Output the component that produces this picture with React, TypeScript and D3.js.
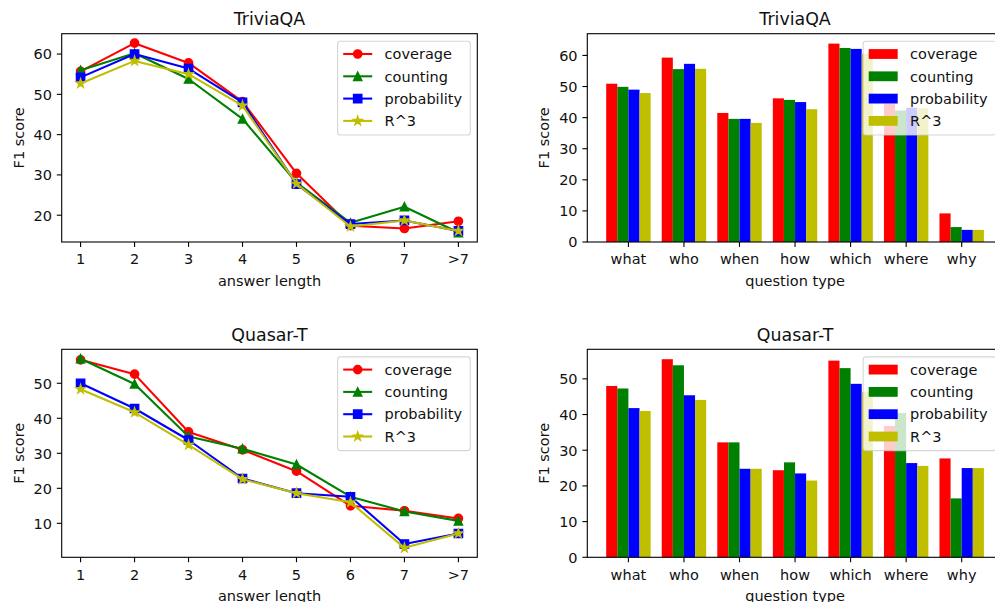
import React from "react";
import * as d3 from "d3";

const answerLengths = ["1", "2", "3", "4", "5", "6", "7", ">7"];
const questionTypes = ["what", "who", "when", "how", "which", "where", "why"];
const methods = ["coverage", "counting", "probability", "R^3"];
const colors = ["#ff0000", "#008000", "#0000ff", "#bfbf00"];
const markers = ["circle", "triangle", "square", "star"];

// TriviaQA by answer length
const triviaLenCoverage = [55.7, 62.7, 57.8, 48.2, 30.4, 17.4, 16.7, 18.5];
const triviaLenCounting = [56.0, 60.2, 53.8, 43.9, 28.1, 18.1, 22.1, 15.7];
const triviaLenProbability = [54.2, 60.0, 56.4, 48.0, 27.7, 17.8, 18.7, 16.1];
const triviaLenR3 = [52.7, 58.3, 55.0, 47.2, 27.8, 17.2, 18.7, 16.1];

// Quasar-T by answer length
const quasarLenCoverage = [56.7, 52.6, 36.1, 31.0, 24.9, 15.0, 13.6, 11.4];
const quasarLenCounting = [57.0, 49.8, 34.8, 31.3, 26.8, 17.6, 13.4, 10.7];
const quasarLenProbability = [50.0, 42.8, 33.8, 22.8, 18.6, 17.6, 4.1, 7.1];
const quasarLenR3 = [48.3, 41.7, 32.4, 22.6, 18.6, 16.0, 3.0, 7.1];

// TriviaQA by question type
const triviaQCoverage = [50.9, 59.3, 41.5, 46.2, 63.8, 44.5, 9.2];
const triviaQCounting = [49.9, 55.6, 39.6, 45.7, 62.4, 42.3, 4.8];
const triviaQProbability = [49.0, 57.3, 39.6, 45.0, 62.1, 43.2, 3.9];
const triviaQR3 = [47.9, 55.7, 38.3, 42.7, 60.5, 43.0, 3.9];

// Quasar-T by question type
const quasarQCoverage = [48.0, 55.5, 32.2, 24.4, 55.1, 36.8, 27.7];
const quasarQCounting = [47.3, 53.8, 32.2, 26.6, 53.0, 40.4, 16.5];
const quasarQProbability = [41.8, 45.4, 24.8, 23.5, 48.6, 26.4, 25.0];
const quasarQR3 = [41.0, 44.1, 24.8, 21.5, 46.4, 25.6, 25.0];

const triviaLenTicks = [20, 30, 40, 50, 60];
const quasarLenTicks = [10, 20, 30, 40, 50];
const triviaQTicks = [0, 10, 20, 30, 40, 50, 60];
const quasarQTicks = [0, 10, 20, 30, 40, 50];

const FONT = "DejaVu Sans, sans-serif";
const FS = 14.5;
const TITLE_FS = 17.4;
const TXT = "#111";

function markerPath(kind: string, r: number): string {
  if (kind === "circle") {
    return `M${-r},0A${r},${r} 0 1,0 ${r},0A${r},${r} 0 1,0 ${-r},0Z`;
  }
  if (kind === "triangle") {
    return `M0,${-r}L${-r},${r}L${r},${r}Z`;
  }
  if (kind === "square") {
    return `M${-r},${-r}H${r}V${r}H${-r}Z`;
  }
  const pts: string[] = [];
  const inner = r * 0.381966;
  for (let i = 0; i < 10; i++) {
    const rad = i % 2 === 0 ? r : inner;
    const a = (i * Math.PI) / 5 - Math.PI / 2;
    pts.push(`${(rad * Math.cos(a)).toFixed(2)},${(rad * Math.sin(a)).toFixed(2)}`);
  }
  return "M" + pts.join("L") + "Z";
}

type Box = { left: number; right: number; top: number; bottom: number };

function Frame({ box, title, xlabel, yTicks, y, ylabelX }: any) {
  const cy = (box.top + box.bottom) / 2;
  const cx = (box.left + box.right) / 2;
  return (
    <g fill={TXT}>
      <text x={cx} y={box.top - 8.3} fontSize={TITLE_FS} textAnchor="middle" fontFamily={FONT}>
        {title}
      </text>
      {yTicks.map((t: number) => (
        <g key={t}>
          <line x1={box.left - 4.9} x2={box.left} y1={y(t)} y2={y(t)} stroke="#000" strokeWidth={1.1} />
          <text x={box.left - 9.7} y={y(t) + 5.3} fontSize={FS} textAnchor="end" fontFamily={FONT}>
            {t}
          </text>
        </g>
      ))}
      <text
        transform={`translate(${ylabelX},${cy}) rotate(-90)`}
        fontSize={FS}
        textAnchor="middle"
        fontFamily={FONT}
      >
        F1 score
      </text>
      <text x={cx} y={box.bottom + 44} fontSize={FS} textAnchor="middle" fontFamily={FONT}>
        {xlabel}
      </text>
    </g>
  );
}

function Spines({ box }: { box: Box }) {
  return (
    <rect
      x={box.left}
      y={box.top}
      width={box.right - box.left}
      height={box.bottom - box.top}
      fill="none"
      stroke="#000"
      strokeWidth={1.1}
    />
  );
}

function Legend({ box, kind }: { box: Box; kind: "line" | "bar" }) {
  const lw = 132.7;
  const lh = 93.7;
  const lx = box.right - 7 - lw;
  const ly = box.top + 7.6;
  return (
    <g>
      <rect
        x={lx}
        y={ly}
        width={lw}
        height={lh}
        rx={2.8}
        fill="#fff"
        fillOpacity={0.8}
        stroke="#cccccc"
        strokeOpacity={0.8}
        strokeWidth={1.1}
      />
      {methods.map((m, i) => {
        const ry = ly + 12.7 + i * 22.3;
        const hx = lx + 5.6;
        return (
          <g key={m}>
            {kind === "line" ? (
              <g>
                <line x1={hx} x2={hx + 29} y1={ry} y2={ry} stroke={colors[i]} strokeWidth={2.08} />
                <path
                  d={markerPath(markers[i], markers[i] === "star" ? 4.6 : 4.15)}
                  transform={`translate(${hx + 14.5},${ry})`}
                  fill={colors[i]}
                  stroke={colors[i]}
                  strokeWidth={1.39}
                />
              </g>
            ) : (
              <rect x={hx} y={ry - 4.9} width={29} height={9.8} fill={colors[i]} />
            )}
            <text x={lx + 47} y={ry + 5.2} fontSize={FS} fontFamily={FONT} fill={TXT}>
              {m}
            </text>
          </g>
        );
      })}
    </g>
  );
}

function LinePanel({ box, title, series, yTicks }: any) {
  const all = series.flat();
  const mn = d3.min(all) as number;
  const mx = d3.max(all) as number;
  const pad = (mx - mn) * 0.05;
  const n = answerLengths.length;
  const x = d3.scaleLinear().domain([-0.35, n - 1 + 0.35]).range([box.left, box.right]);
  const y = d3.scaleLinear().domain([mn - pad, mx + pad]).range([box.bottom, box.top]);
  const line = d3
    .line<number>()
    .x((_, i) => x(i))
    .y((d) => y(d));
  return (
    <g>
      <Frame box={box} title={title} xlabel="answer length" yTicks={yTicks} y={y} ylabelX={24} />
      {answerLengths.map((l, i) => (
        <g key={l}>
          <line x1={x(i)} x2={x(i)} y1={box.bottom} y2={box.bottom + 4.9} stroke="#000" strokeWidth={1.1} />
          <text x={x(i)} y={box.bottom + 22.3} fontSize={FS} textAnchor="middle" fontFamily={FONT} fill={TXT}>
            {l}
          </text>
        </g>
      ))}
      {series.map((s: number[], k: number) => (
        <g key={k}>
          <path d={line(s) as string} fill="none" stroke={colors[k]} strokeWidth={2.08} strokeLinejoin="round" />
          {s.map((v, i) => (
            <path
              key={i}
              d={markerPath(markers[k], markers[k] === "star" ? 4.6 : 4.15)}
              transform={`translate(${x(i)},${y(v)})`}
              fill={colors[k]}
              stroke={colors[k]}
              strokeWidth={1.39}
            />
          ))}
        </g>
      ))}
      <Spines box={box} />
      <Legend box={box} kind="line" />
    </g>
  );
}

function BarPanel({ box, title, series, yTicks }: any) {
  const all = series.flat();
  const mx = d3.max(all) as number;
  const n = questionTypes.length;
  const x = d3.scaleLinear().domain([-0.74, n - 1 + 0.74]).range([box.left, box.right]);
  const y = d3.scaleLinear().domain([0, mx * 1.05]).range([box.bottom, box.top]);
  const bw = 0.2;
  return (
    <g>
      <Frame box={box} title={title} xlabel="question type" yTicks={yTicks} y={y} ylabelX={549.3} />
      {series.map((s: number[], k: number) => (
        <g key={k}>
          {s.map((v, i) => {
            const x0 = x(i - 0.4 + k * bw);
            const x1 = x(i - 0.4 + (k + 1) * bw);
            return <rect key={i} x={x0} y={y(v)} width={x1 - x0} height={y(0) - y(v)} fill={colors[k]} />;
          })}
        </g>
      ))}
      {questionTypes.map((q, i) => (
        <g key={q}>
          <line x1={x(i)} x2={x(i)} y1={box.bottom} y2={box.bottom + 4.9} stroke="#000" strokeWidth={1.1} />
          <text x={x(i)} y={box.bottom + 22.3} fontSize={FS} textAnchor="middle" fontFamily={FONT} fill={TXT}>
            {q}
          </text>
        </g>
      ))}
      <Spines box={box} />
      <Legend box={box} kind="bar" />
    </g>
  );
}

export default function App() {
  const topLeft: Box = { left: 61.7, right: 477.3, top: 33.7, bottom: 242 };
  const botLeft: Box = { left: 61.7, right: 477.3, top: 349.3, bottom: 557.3 };
  const topRight: Box = { left: 587.3, right: 1002.8, top: 33.7, bottom: 242 };
  const botRight: Box = { left: 587.3, right: 1002.8, top: 349.3, bottom: 557.3 };
  return (
    <svg
      width={995}
      height={602}
      style={{ position: "absolute", left: 0, top: 0, background: "#fff", overflow: "hidden" }}
    >
      <rect width={995} height={602} fill="#fff" />
      <LinePanel
        box={topLeft}
        title="TriviaQA"
        series={[triviaLenCoverage, triviaLenCounting, triviaLenProbability, triviaLenR3]}
        yTicks={triviaLenTicks}
      />
      <LinePanel
        box={botLeft}
        title="Quasar-T"
        series={[quasarLenCoverage, quasarLenCounting, quasarLenProbability, quasarLenR3]}
        yTicks={quasarLenTicks}
      />
      <BarPanel
        box={topRight}
        title="TriviaQA"
        series={[triviaQCoverage, triviaQCounting, triviaQProbability, triviaQR3]}
        yTicks={triviaQTicks}
      />
      <BarPanel
        box={botRight}
        title="Quasar-T"
        series={[quasarQCoverage, quasarQCounting, quasarQProbability, quasarQR3]}
        yTicks={quasarQTicks}
      />
    </svg>
  );
}
